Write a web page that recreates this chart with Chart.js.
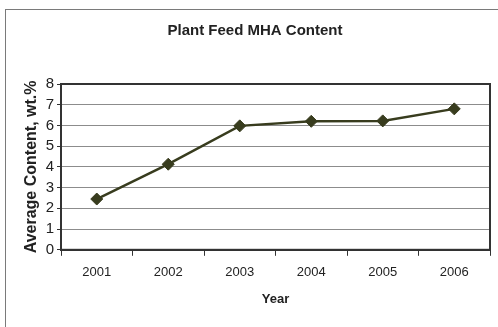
<!DOCTYPE html>
<html>
<head>
<meta charset="utf-8">
<script src="https://cdn.jsdelivr.net/npm/chart.js@4"></script>
<style>
  html, body { margin: 0; padding: 0; background: #fff; }
  #wrap { width: 498px; height: 327px; }
</style>
</head>
<body>
<div id="wrap"><canvas id="mhaChart" width="498" height="327"></canvas></div>
<script>
// Plant feed MHA content by year
const years = ['2001', '2002', '2003', '2004', '2005', '2006'];
const avgContent = [2.45, 4.13, 5.98, 6.2, 6.22, 6.8];
const yTicks = [0, 1, 2, 3, 4, 5, 6, 7, 8];

const FONT = "'Liberation Sans', Arial, sans-serif";
const INK = '#222';
const LINE = '#383c1e';

// Outer frame and dark box round the plot area
const framePlugin = {
  id: 'frame',
  beforeDraw(chart) {
    const ctx = chart.ctx;
    ctx.save();
    ctx.fillStyle = '#fff';
    ctx.fillRect(0, 0, chart.width, chart.height);
    ctx.strokeStyle = '#7a7a7a';
    ctx.lineWidth = 1;
    ctx.strokeRect(5.5, 9.5, chart.width + 20, chart.height + 20);
    ctx.restore();
  },
  afterDatasetsDraw(chart) {
    const { ctx, chartArea: a } = chart;
    ctx.save();
    ctx.strokeStyle = '#333';
    ctx.lineWidth = 2;
    ctx.strokeRect(a.left, a.top, a.right - a.left, a.bottom - a.top);
    ctx.restore();
  }
};

new Chart(document.getElementById('mhaChart'), {
  type: 'line',
  data: {
    labels: years,
    datasets: [{
      label: 'Average Content',
      data: avgContent,
      borderColor: LINE,
      backgroundColor: LINE,
      borderWidth: 2.5,
      pointStyle: 'rectRot',
      pointRadius: 6,
      pointBorderWidth: 1,
      tension: 0,
      fill: false
    }]
  },
  options: {
    responsive: false,
    animation: false,
    layout: { padding: { left: 20, right: 8, top: 0, bottom: 16 } },
    plugins: {
      legend: { display: false },
      tooltip: { enabled: false },
      title: {
        display: true,
        text: 'Plant Feed MHA Content',
        color: INK,
        font: { family: FONT, size: 15, weight: 'bold' },
        padding: { top: 22, bottom: 44 }
      }
    },
    scales: {
      x: {
        type: 'category',
        offset: true,
        grid: {
          offset: true,
          drawOnChartArea: false,
          drawTicks: true,
          tickLength: 6,
          tickColor: '#333'
        },
        border: { color: '#333', width: 2 },
        ticks: {
          color: INK,
          padding: 9,
          maxRotation: 0,
          autoSkip: false,
          font: { family: FONT, size: 13 }
        },
        title: {
          display: true,
          text: 'Year',
          color: INK,
          font: { family: FONT, size: 13, weight: 'bold' },
          padding: { top: 2, bottom: 4 }
        }
      },
      y: {
        min: 0,
        max: 8,
        afterBuildTicks(scale) {
          scale.ticks = yTicks.map(v => ({ value: v }));
        },
        afterFit(scale) {
          scale.width = 41;
        },
        grid: {
          color: '#8c8c8c',
          lineWidth: 1,
          tickLength: 4,
          tickColor: '#333'
        },
        border: { color: '#333', width: 2 },
        ticks: {
          color: INK,
          padding: 3,
          autoSkip: false,
          font: { family: FONT, size: 15 }
        },
        title: {
          display: true,
          text: 'Average Content, wt.%',
          color: INK,
          font: { family: FONT, size: 16, weight: 'bold' },
          padding: { top: 2, bottom: 0 }
        }
      }
    }
  },
  plugins: [framePlugin]
});
</script>
</body>
</html>
